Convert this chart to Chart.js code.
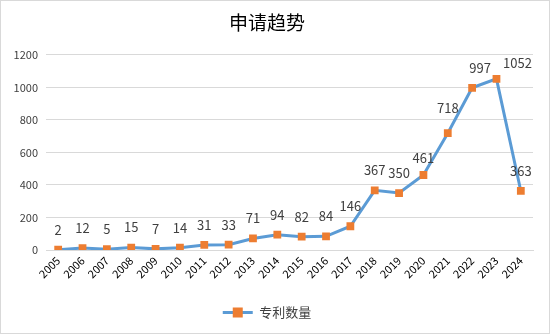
<!DOCTYPE html>
<html>
<head>
<meta charset="utf-8">
<script src="https://cdn.jsdelivr.net/npm/chart.js@4/dist/chart.umd.min.js"></script>
<style>
    html, body { margin: 0; padding: 0; background: #fff; }
    .chartBox { width: 548px; height: 332px; border: 1px solid #d9d9d9; position: relative; }
</style>
</head>
<body>
<div class="chartBox"><canvas id="trendChart" width="548" height="332"></canvas></div>
<script>
const years = ['2005', '2006', '2007', '2008', '2009', '2010', '2011', '2012', '2013', '2014',
    '2015', '2016', '2017', '2018', '2019', '2020', '2021', '2022', '2023', '2024'];
const patentCounts = [2, 12, 5, 15, 7, 14, 31, 33, 71, 94, 82, 84, 146, 367, 350, 461, 718, 997, 1052, 363];
const yTicks = [0, 200, 400, 600, 800, 1000, 1200];

const FONT = '"Noto Sans CJK SC", "Noto Sans", sans-serif';

// a few labels sit a bit off the default "above" spot
const labelNudge = {16: [0, -5], 17: [8, 0], 18: [21, 4], 15: [0, 3]};

const valueLabels = {
    id: 'valueLabels',
    afterDatasetsDraw(chart) {
        const ctx = chart.ctx;
        const meta = chart.getDatasetMeta(0);
        ctx.save();
        ctx.font = '13px ' + FONT;
        ctx.fillStyle = '#404040';
        ctx.textAlign = 'center';
        ctx.textBaseline = 'middle';
        meta.data.forEach((pt, i) => {
            const n = labelNudge[i] || [0, 0];
            ctx.fillText(String(patentCounts[i]), pt.x + n[0], pt.y - 20 + n[1]);
        });
        ctx.restore();
    }
};

new Chart(document.getElementById('trendChart'), {
    type: 'line',
    data: {
        labels: years,
        datasets: [{
            label: '专利数量',
            data: patentCounts,
            borderColor: '#5b9bd5',
            backgroundColor: '#ed7d31',
            borderWidth: 3,
            pointStyle: 'rect',
            pointRadius: 5.5,
            pointHoverRadius: 5.5,
            pointBackgroundColor: '#ed7d31',
            pointBorderColor: '#ed7d31',
            pointBorderWidth: 0,
            tension: 0,
            fill: false
        }]
    },
    options: {
        responsive: false,
        animation: false,
        layout: {padding: {left: 0, right: 16, top: 0, bottom: 4}},
        scales: {
            x: {
                offset: true,
                grid: {display: false, drawTicks: false},
                border: {display: true, color: '#d9d9d9', width: 1},
                ticks: {
                    color: '#000',
                    font: {family: FONT, size: 11},
                    maxRotation: 45,
                    minRotation: 45,
                    autoSkip: false,
                    padding: 4
                },
                afterFit(scale) { scale.height = 48; }
            },
            y: {
                min: 0,
                max: 1200,
                afterBuildTicks(scale) { scale.ticks = yTicks.map(v => ({value: v})); },
                grid: {color: '#d9d9d9', lineWidth: 1, drawTicks: false},
                border: {display: false},
                ticks: {
                    color: '#404040',
                    font: {family: FONT, size: 11},
                    padding: 8,
                    callback: (v) => String(v)
                },
                afterFit(scale) { scale.width = 45; }
            }
        },
        plugins: {
            title: {
                display: true,
                text: '申请趋势',
                color: '#000',
                font: {family: FONT, size: 19, weight: 'normal'},
                padding: {top: 10, bottom: 21}
            },
            legend: {
                display: true,
                position: 'bottom',
                labels: {
                    color: '#404040',
                    font: {family: FONT, size: 13},
                    usePointStyle: false,
                    boxWidth: 30,
                    boxHeight: 3,
                    padding: 8,
                    generateLabels(chart) {
                        return [{
                            text: '专利数量',
                            fillStyle: '#5b9bd5',
                            strokeStyle: '#5b9bd5',
                            lineWidth: 0,
                            fontColor: '#404040',
                            datasetIndex: 0
                        }];
                    }
                }
            },
            tooltip: {enabled: false}
        }
    },
    plugins: [valueLabels, {
        // orange square on the middle of the legend line
        id: 'legendMarker',
        afterDraw(chart) {
            const item = chart.legend.legendHitBoxes[0];
            if (!item) return;
            const ctx = chart.ctx;
            const cx = item.left + 15;
            const cy = item.top + item.height / 2;
            ctx.save();
            ctx.fillStyle = '#ed7d31';
            ctx.fillRect(cx - 5, cy - 5, 10, 10);
            ctx.restore();
        }
    }]
});
</script>
</body>
</html>
